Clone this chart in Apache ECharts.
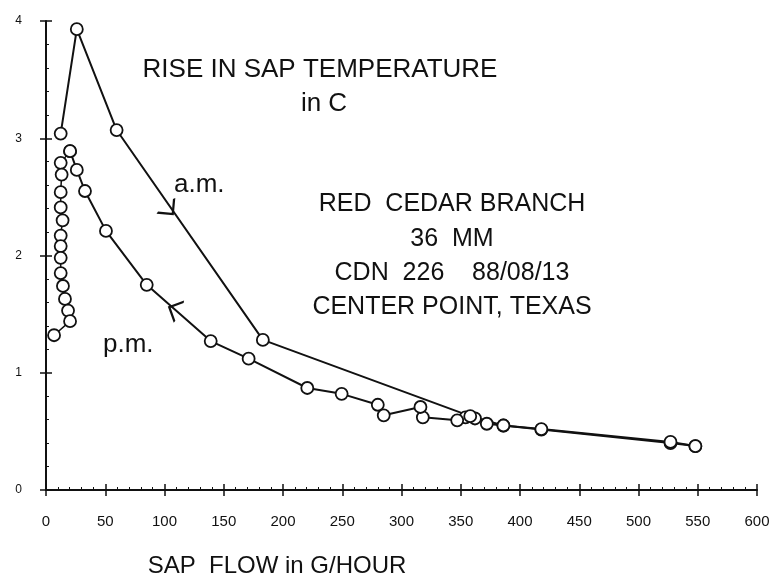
<!DOCTYPE html>
<html>
<head>
<meta charset="utf-8">
<script src="https://cdn.jsdelivr.net/npm/echarts@6/dist/echarts.min.js"></script>
<style>
  html, body { margin: 0; padding: 0; background: #fff; }
  #chart { width: 777px; height: 576px; }
</style>
</head>
<body>
<div id="chart"></div>
<script>
// sap flow (G/HOUR) vs rise in sap temperature (C)
const amFlow = [12.4, 26, 59.6, 183, 358, 386, 418, 527, 548]
const amTemp = [3.04, 3.93, 3.07, 1.28, 0.63, 0.55, 0.52, 0.41, 0.375]

const pmFlow = [548, 527, 418, 386, 372, 362, 354, 347, 318, 316, 285, 280, 249.5, 220.5, 171, 139, 85, 50.6, 32.9, 26, 20.3]
const pmTemp = [0.375, 0.40, 0.515, 0.55, 0.565, 0.61, 0.62, 0.594, 0.62, 0.708, 0.637, 0.727, 0.82, 0.87, 1.12, 1.27, 1.75, 2.21, 2.55, 2.73, 2.89]

const nightFlow = [20.3, 12.4, 13.2, 12.4, 12.4, 14, 12.4, 12.4, 12.4, 12.4, 14.3, 16, 18.6, 20.3, 6.8]
const nightTemp = [2.89, 2.79, 2.69, 2.54, 2.41, 2.30, 2.17, 2.08, 1.98, 1.85, 1.74, 1.63, 1.53, 1.44, 1.32]

const xTicks = [0, 600, 50]
const yTicks = [0, 4, 1]

const pairs = (xs, ys) => xs.map((x, i) => [x, ys[i]])

const chartDom = document.getElementById('chart')
const chart = echarts.init(chartDom)

const ink = '#111'
const font = 'Liberation Sans, Arial, Helvetica, sans-serif'

function curve(name, data) {
  return {
    name: name,
    type: 'line',
    data: data,
    symbol: 'circle',
    symbolSize: 12,
    animation: false,
    lineStyle: { color: ink, width: 2 },
    itemStyle: { color: '#fff', borderColor: ink, borderWidth: 1.8 }
  }
}

function text(str, x, y, size, align) {
  return {
    type: 'text',
    style: {
      text: str,
      x: x,
      y: y,
      fill: ink,
      font: size + 'px ' + font,
      textAlign: align || 'center',
      textVerticalAlign: 'middle'
    }
  }
}

const chevron = 'path://M0,0 L10,10 L20,0'

let amSeries = curve('a.m.', pairs(amFlow, amTemp))
amSeries.markPoint = {
  symbol: chevron,
  symbolSize: [22, 11],
  label: { show: false },
  itemStyle: { color: 'transparent', borderColor: ink, borderWidth: 2 },
  data: [{ coord: [104, 2.39], symbolRotate: 40 }]
}

let pmSeries = curve('p.m.', pairs(pmFlow, pmTemp))
pmSeries.markPoint = {
  symbol: chevron,
  symbolSize: [22, 11],
  label: { show: false },
  itemStyle: { color: 'transparent', borderColor: ink, borderWidth: 2 },
  data: [{ coord: [108.2, 1.54], symbolRotate: 245 }]
}

let nightSeries = curve('night', pairs(nightFlow, nightTemp))
nightSeries.lineStyle.width = 1.5

let option = {
  backgroundColor: '#fff',
  animation: false,
  grid: { left: 46, right: 20, top: 21, bottom: 86 },
  xAxis: [
    {
      type: 'value',
      position: 'bottom',
      min: xTicks[0],
      max: xTicks[1],
      interval: xTicks[2],
      axisLine: { onZero: false, lineStyle: { color: ink, width: 2 } },
      axisTick: { inside: true, length: 6, lineStyle: { color: ink, width: 1.5 } },
      minorTick: { show: true, splitNumber: 5, length: 3, lineStyle: { color: ink, width: 1 } },
      axisLabel: { color: ink, fontSize: 15, fontFamily: font, margin: 24 },
      splitLine: { show: false }
    },
    {
      type: 'value',
      position: 'bottom',
      min: xTicks[0],
      max: xTicks[1],
      interval: xTicks[2],
      axisLine: { show: false, onZero: false },
      axisTick: { inside: false, length: 6, lineStyle: { color: ink, width: 1.5 } },
      axisLabel: { show: false },
      splitLine: { show: false }
    }
  ],
  yAxis: [
    {
      type: 'value',
      position: 'left',
      min: yTicks[0],
      max: yTicks[1],
      interval: yTicks[2],
      axisLine: { onZero: false, lineStyle: { color: ink, width: 2 } },
      axisTick: { inside: true, length: 6, lineStyle: { color: ink, width: 1.5 } },
      minorTick: { show: true, splitNumber: 5, length: 3, lineStyle: { color: ink, width: 1 } },
      axisLabel: { color: ink, fontSize: 12, fontFamily: font, margin: 24 },
      splitLine: { show: false }
    },
    {
      type: 'value',
      position: 'left',
      min: yTicks[0],
      max: yTicks[1],
      interval: yTicks[2],
      axisLine: { show: false, onZero: false },
      axisTick: { inside: false, length: 6, lineStyle: { color: ink, width: 1.5 } },
      axisLabel: { show: false },
      splitLine: { show: false }
    }
  ],
  graphic: [
    text('RISE IN SAP TEMPERATURE', 320, 70, 26),
    text('in C', 324, 104, 26),
    text('a.m.', 174, 185, 26, 'left'),
    text('RED  CEDAR BRANCH', 452, 204, 25),
    text('36  MM', 452, 239, 25),
    text('CDN  226    88/08/13', 452, 273, 25),
    text('CENTER POINT, TEXAS', 452, 307, 25),
    text('p.m.', 103, 345, 26, 'left'),
    text('SAP  FLOW in G/HOUR', 277, 566, 24)
  ],
  series: [nightSeries, pmSeries, amSeries]
}

option && chart.setOption(option)
</script>
</body>
</html>
